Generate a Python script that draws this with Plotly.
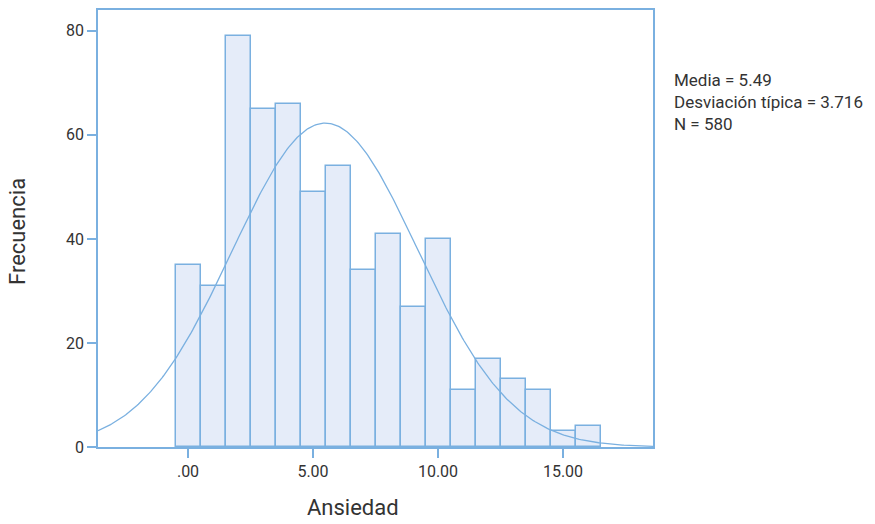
import numpy as np
import plotly.graph_objects as go

bins = list(range(0, 17))
counts = [35, 31, 79, 65, 66, 49, 54, 34, 41, 27, 40, 11, 17, 13, 11, 3, 4]
mean_val = 5.49
sd_val = 3.716
n_val = 580
x_ticks = [0, 5, 10, 15]
x_tick_labels = [".00", "5.00", "10.00", "15.00"]
y_ticks = [0, 20, 40, 60, 80]

line_col = "#7ab0e0"
fill_col = "#e5ecf9"
txt_col = "#333333"
font_fam = "Roboto, Inter, sans-serif"

xc = np.linspace(-3.6, 18.6, 400)
yc = n_val * 1.0 / (sd_val * np.sqrt(2 * np.pi)) * np.exp(-0.5 * ((xc - mean_val) / sd_val) ** 2)

fig = go.Figure()
fig.add_trace(go.Bar(x=bins, y=counts, width=1,
                     marker=dict(color=fill_col, line=dict(color=line_col, width=1.5)),
                     showlegend=False, hoverinfo="x+y"))
fig.add_trace(go.Scatter(x=xc, y=yc, mode="lines",
                         line=dict(color=line_col, width=1.3), showlegend=False))

pw = 875 - 98 - 222
ph = 524 - 8 - 77

fig.update_layout(
    width=875, height=524,
    margin=dict(l=98, r=222, t=8, b=77),
    paper_bgcolor="white", plot_bgcolor="white",
    font=dict(family=font_fam, color=txt_col, size=15),
    bargap=0,
    xaxis=dict(range=[-3.6, 18.6], tickvals=x_ticks, ticktext=x_tick_labels,
               showline=True, linecolor=line_col, linewidth=1.5, mirror=True,
               ticks="outside", ticklen=9, tickcolor=line_col, tickwidth=1.5,
               showgrid=False, zeroline=False, tickfont=dict(size=16, color=txt_col)),
    yaxis=dict(range=[0, 84], tickvals=y_ticks,
               showline=True, linecolor=line_col, linewidth=1.5, mirror=True,
               ticks="outside", ticklen=9, tickcolor=line_col, tickwidth=1.5,
               showgrid=False, zeroline=False, tickfont=dict(size=16, color=txt_col)),
    annotations=[
        dict(x=(353 - 98) / pw, y=(447 - 508) / ph, xref="paper", yref="paper",
             text="Ansiedad", showarrow=False, xanchor="center", yanchor="middle",
             font=dict(size=22, color=txt_col)),
        dict(x=(18 - 98) / pw, y=(447 - 231) / ph, xref="paper", yref="paper",
             text="Frecuencia", showarrow=False, xanchor="center", yanchor="middle",
             textangle=-90, font=dict(size=22, color=txt_col)),
        dict(x=(672 - 98) / pw, y=(447 - 66) / ph, xref="paper", yref="paper",
             text=f"Media = {mean_val}<br>Desviación típica = {sd_val}<br>N = {n_val}",
             showarrow=False, xanchor="left", yanchor="top", align="left",
             font=dict(size=17, color=txt_col)),
    ],
)

fig.write_html("out.html", config={"displayModeBar": False},
               post_script="document.body.style.margin='0';")
